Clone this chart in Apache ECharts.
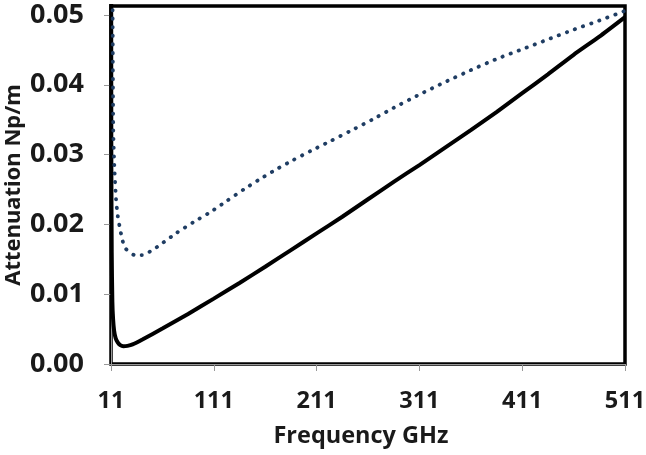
<!DOCTYPE html>
<html>
<head>
<meta charset="utf-8">
<script src="https://cdn.jsdelivr.net/npm/echarts@6/dist/echarts.min.js"></script>
<style>
html,body{margin:0;padding:0;background:#fff;}
#chart{width:646px;height:455px;}
</style>
</head>
<body>
<div id="chart"></div>
<script>
// Frequency axis (GHz) starts at cutoff 11 GHz
const xStart = 11;
const xTickLabels = ['11', '111', '211', '311', '411', '511'];
const yTickLabels = ['0.00', '0.01', '0.02', '0.03', '0.04', '0.05'];

// Solid curve
const solidFreq = [11.05, 11.3, 11.7, 12.3, 13, 14, 15.5, 17.5, 20, 23, 27, 32, 42, 61, 86, 111, 136, 161, 186, 211, 236, 261, 286, 311, 336, 361, 386, 411, 436, 461, 486, 511];
const solidVals = [0.09, 0.03, 0.016, 0.009, 0.0065, 0.0048, 0.0037, 0.0031, 0.0027, 0.00255, 0.0026, 0.0028, 0.00355, 0.00507, 0.00717, 0.00937, 0.01161, 0.01393, 0.01632, 0.01871, 0.0211, 0.0236, 0.0261, 0.0285, 0.0310, 0.0335, 0.0361, 0.0388, 0.0415, 0.0443, 0.0469, 0.0497];

// Dotted curve
const dottedFreq = [11.4, 12.0, 12.6, 13.2, 14.2, 15.9, 17.5, 19.5, 22, 24.5, 28, 34, 41, 50, 59, 75, 91, 107, 124, 140, 156, 172, 188, 205, 224, 244, 265, 286, 311, 336, 361, 386, 411, 436, 461, 486, 511];
const dottedVals = [0.1, 0.065, 0.050, 0.0336, 0.0285, 0.0236, 0.0213, 0.0196, 0.0178, 0.0167, 0.0161, 0.0156, 0.0156, 0.0162, 0.0171, 0.0188, 0.0203, 0.0217, 0.0234, 0.0250, 0.0265, 0.0279, 0.0292, 0.0305, 0.0319, 0.0334, 0.0350, 0.0367, 0.0386, 0.0404, 0.0421, 0.0437, 0.0451, 0.0465, 0.0479, 0.0492, 0.0506];

const toPairs = (fs, vs) => fs.map((f, i) => [f - xStart, vs[i]]);

const chart = echarts.init(document.getElementById('chart'), null, {renderer: 'canvas'});
const labelFont = {fontFamily: 'Open Sans', fontWeight: 'bold', color: '#1a1a1a'};

chart.setOption({
  animation: false,
  backgroundColor: '#fff',
  grid: {
    left: 111, right: 21, top: 6, bottom: 91,
    containLabel: false, outerBoundsMode: 'none',
    show: true, borderColor: '#000', borderWidth: 3.5, backgroundColor: 'transparent'
  },
  xAxis: {
    type: 'value', min: 0, max: 500, interval: 100,
    name: 'Frequency GHz', nameLocation: 'middle', nameGap: 60, nameMoveOverlap: false,
    nameTextStyle: Object.assign({fontSize: 23.5, padding: [0, 14, 0, 0]}, labelFont),
    axisLine: {show: true, onZero: false, lineStyle: {color: '#999', width: 1}},
    axisTick: {show: true, inside: false, length: 7, lineStyle: {color: '#999'}},
    splitLine: {show: false},
    axisLabel: Object.assign({fontSize: 23.5, margin: 25,
      formatter: v => xTickLabels[Math.round(v / 100)] || ''}, labelFont)
  },
  yAxis: {
    type: 'value', min: 0, max: 0.05129, interval: 0.01,
    name: 'Attenuation Np/m', nameLocation: 'middle', nameGap: 86, nameMoveOverlap: false,
    nameTextStyle: {fontSize: 22, fontFamily: 'Noto Sans', fontWeight: 'bold', color: '#1a1a1a'},
    axisLine: {show: true, lineStyle: {color: '#999', width: 1}},
    axisTick: {show: true, inside: false, length: 7, lineStyle: {color: '#999'}},
    splitLine: {show: false},
    axisLabel: Object.assign({fontSize: 27, margin: 27, showMaxLabel: false,
      formatter: v => { const i = Math.round(v / 0.01); return (Math.abs(v - i * 0.01) < 1e-9) ? (yTickLabels[i] || '') : ''; }}, labelFont)
  },
  series: [
    {
      type: 'line', name: 'solid', data: toPairs(solidFreq, solidVals),
      showSymbol: false, smooth: 0.2, clip: true,
      lineStyle: {color: '#000', width: 4}
    },
    {
      type: 'line', name: 'dotted', data: toPairs(dottedFreq, dottedVals),
      showSymbol: false, smooth: 0.2, clip: true,
      lineStyle: {color: '#1f3d63', width: 3.8, type: [0.3, 8.3], cap: 'round'}
    }
  ]
});
</script>
</body>
</html>
